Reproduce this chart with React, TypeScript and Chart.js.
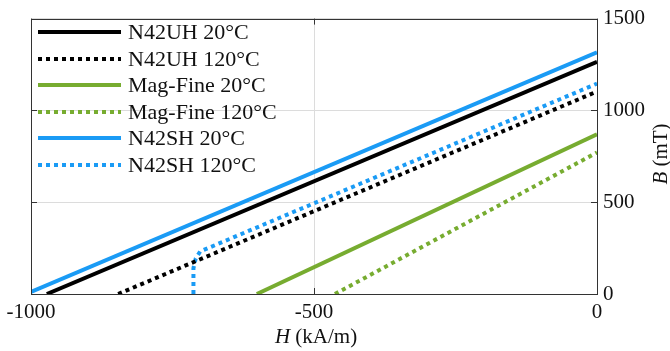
import React, { useEffect, useRef } from "react";
import { Chart, registerables } from "chart.js";

Chart.register(...registerables);

// ---- data ----
const seriesNames = [
  "N42UH 20°C",
  "N42UH 120°C",
  "Mag-Fine 20°C",
  "Mag-Fine 120°C",
  "N42SH 20°C",
  "N42SH 120°C",
];
const hN42UH20 = [-972, 0];
const bN42UH20 = [0, 1264];
const hN42UH120 = [-846, 0];
const bN42UH120 = [0, 1103];
const hMag20 = [-601, 0];
const bMag20 = [0, 870];
const hMag120 = [-463, 0];
const bMag120 = [0, 771];
const hN42SH20 = [-1000, 0];
const bN42SH20 = [12, 1316];
const hN42SH120 = [-713, -713, -709, -701, 0];
const bN42SH120 = [0, 140, 193, 232, 1146];

const xTicks = [-1000, -500, 0];
const yTicks = [0, 500, 1000, 1500];
const xTitleItalic = "H";
const xTitleRest = " (kA/m)";
const yTitleItalic = "B";
const yTitleRest = " (mT)";

const BLACK = "#000000";
const GREEN = "#77AC30";
const BLUE = "#1A9BF5";
const FONT = "'Liberation Serif', 'Times New Roman', serif";
const AXIS = "#333333";

function pts(h: number[], b: number[]) {
  return h.map((x, i) => ({ x, y: b[i] }));
}

const seriesData = [
  pts(hN42UH20, bN42UH20),
  pts(hN42UH120, bN42UH120),
  pts(hMag20, bMag20),
  pts(hMag120, bMag120),
  pts(hN42SH20, bN42SH20),
  pts(hN42SH120, bN42SH120),
];
const seriesColors = [BLACK, BLACK, GREEN, GREEN, BLUE, BLUE];
const seriesDotted = [false, true, false, true, false, true];

const boxPlugin = {
  id: "boxPlugin",
  afterDraw(chart: any) {
    const ctx = chart.ctx;
    const { left, right, top, bottom } = chart.chartArea;
    const xs = chart.scales.x;
    const ys = chart.scales.y;
    ctx.save();
    ctx.strokeStyle = AXIS;
    ctx.lineWidth = 1;
    ctx.setLineDash([]);
    ctx.strokeRect(Math.round(left) + 0.5, Math.round(top) + 0.5, Math.round(right - left), Math.round(bottom - top));
    const tl = 6;
    ctx.beginPath();
    xTicks.forEach((v) => {
      const px = Math.round(xs.getPixelForValue(v)) + 0.5;
      ctx.moveTo(px, bottom);
      ctx.lineTo(px, bottom - tl);
      ctx.moveTo(px, top);
      ctx.lineTo(px, top + tl);
    });
    yTicks.forEach((v) => {
      const py = Math.round(ys.getPixelForValue(v)) + 0.5;
      ctx.moveTo(left, py);
      ctx.lineTo(left + tl, py);
      ctx.moveTo(right, py);
      ctx.lineTo(right - tl, py);
    });
    ctx.stroke();

    // axis titles
    ctx.fillStyle = "#111111";
    ctx.textBaseline = "middle";
    ctx.textAlign = "left";
    const italic = "italic 21px " + FONT;
    const normal = "21px " + FONT;
    ctx.font = italic;
    const w1 = ctx.measureText(xTitleItalic).width;
    ctx.font = normal;
    const w2 = ctx.measureText(xTitleRest).width;
    const cx = (left + right) / 2 + 2;
    let sx = cx - (w1 + w2) / 2;
    ctx.font = italic;
    ctx.fillText(xTitleItalic, sx, 337);
    ctx.font = normal;
    ctx.fillText(xTitleRest, sx + w1, 337);

    ctx.save();
    ctx.translate(661, 154);
    ctx.rotate(-Math.PI / 2);
    ctx.font = italic;
    const v1 = ctx.measureText(yTitleItalic).width;
    ctx.font = normal;
    const v2 = ctx.measureText(yTitleRest).width;
    sx = -(v1 + v2) / 2;
    ctx.font = italic;
    ctx.fillText(yTitleItalic, sx, 0);
    ctx.font = normal;
    ctx.fillText(yTitleRest, sx + v1, 0);
    ctx.restore();

    // legend
    const y0 = 32;
    const step = 26.6;
    const legendFont = "22px " + FONT;
    seriesNames.forEach((name, i) => {
      const y = Math.round(y0 + i * step);
      ctx.beginPath();
      ctx.strokeStyle = seriesColors[i];
      ctx.lineWidth = 4;
      ctx.lineCap = "butt";
      ctx.setLineDash(seriesDotted[i] ? [4, 4] : []);
      ctx.moveTo(38, y);
      ctx.lineTo(121, y);
      ctx.stroke();
      ctx.setLineDash([]);
      ctx.fillStyle = "#111111";
      ctx.font = legendFont;
      ctx.textAlign = "left";
      ctx.textBaseline = "middle";
      ctx.fillText(name, 128, y + 1);
    });
    ctx.restore();
  },
};

export default function App() {
  const ref = useRef<HTMLCanvasElement | null>(null);
  useEffect(() => {
    if (!ref.current) return;
    const chart = new Chart(ref.current, {
      type: "line",
      data: {
        datasets: seriesData.map((d, i) => ({
          label: seriesNames[i],
          data: d,
          borderColor: seriesColors[i],
          backgroundColor: seriesColors[i],
          borderWidth: 4,
          borderDash: seriesDotted[i] ? [4, 4] : [],
          borderCapStyle: "butt",
          pointRadius: 0,
          tension: 0,
          fill: false,
        })),
      },
      options: {
        responsive: false,
        animation: false,
        layout: { padding: { left: 31, top: 14, right: 0, bottom: 0 } },
        plugins: {
          legend: { display: false },
          tooltip: { enabled: false },
        },
        scales: {
          x: {
            type: "linear",
            min: -1000,
            max: 0,
            afterFit: (s: any) => {
              s.height = 57;
            },
            afterBuildTicks: (s: any) => {
              s.ticks = xTicks.map((v) => ({ value: v }));
            },
            ticks: {
              font: { family: FONT, size: 21 },
              color: "#111111",
              padding: 6,
              maxRotation: 0,
              callback: (v: any) => String(v),
            },
            grid: { color: "#dcdcdc", lineWidth: 1, drawTicks: false },
            border: { display: false },
          },
          y: {
            type: "linear",
            position: "right",
            min: 0,
            max: 1500,
            afterFit: (s: any) => {
              s.width = 73;
            },
            afterBuildTicks: (s: any) => {
              s.ticks = yTicks.map((v) => ({ value: v }));
            },
            ticks: {
              font: { family: FONT, size: 21 },
              color: "#111111",
              padding: 6,
              callback: (v: any) => String(v),
            },
            grid: { color: "#dcdcdc", lineWidth: 1, drawTicks: false },
            border: { display: false },
          },
        },
      },
      plugins: [boxPlugin],
    } as any);
    return () => chart.destroy();
  }, []);
  return (
    <div style={{ position: "absolute", left: 0, top: 0, width: 670, height: 351, background: "#fff" }}>
      <canvas ref={ref} width={670} height={351} />
    </div>
  );
}
